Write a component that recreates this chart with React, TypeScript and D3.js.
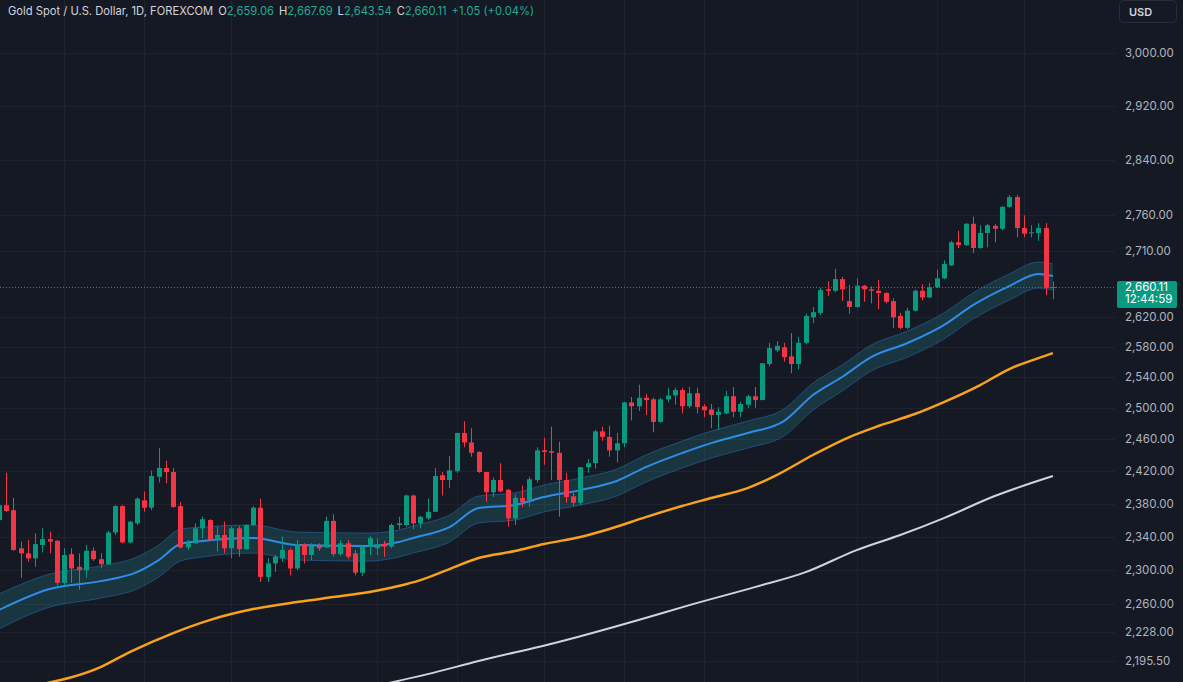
import React from 'react';
import * as d3 from 'd3';

// ---- Daily OHLC (Gold Spot / USD, FOREXCOM) ----
const opens = [
  2360, 2378, 2372, 2326, 2320, 2314, 2330, 2337, 2335, 2285,
  2319, 2304, 2300, 2323, 2313, 2307, 2345, 2377, 2333, 2356,
  2384, 2375, 2413, 2424, 2419, 2377, 2327, 2332, 2350, 2360,
  2336, 2342, 2326, 2350, 2325, 2354, 2375, 2292, 2308, 2314,
  2324, 2302, 2331, 2318, 2329, 2327, 2359, 2319, 2332, 2320,
  2297, 2328, 2326, 2331, 2328, 2354, 2354, 2390, 2356, 2362,
  2370, 2415, 2409, 2420, 2468, 2456, 2444, 2419, 2394, 2409,
  2397, 2362, 2387, 2384, 2409, 2446, 2445, 2443, 2409, 2389,
  2381, 2425, 2430, 2470, 2463, 2446, 2455, 2507, 2502, 2513,
  2511, 2482, 2511, 2516, 2523, 2502, 2519, 2502, 2498, 2491,
  2493, 2515, 2495, 2504, 2515, 2510, 2557, 2575, 2579, 2567,
  2557, 2585, 2619, 2625, 2657, 2655, 2671, 2641, 2633, 2662,
  2657, 2655, 2652, 2641, 2621, 2605, 2628, 2655, 2646, 2660,
  2672, 2690, 2722, 2718, 2748, 2714, 2735, 2745, 2741, 2772,
  2786, 2742, 2735, 2735, 2742, 2659.06,
];
const highs = [
  2384, 2418, 2387, 2334, 2336, 2344, 2350, 2346, 2336, 2326,
  2326, 2320, 2330, 2327, 2320, 2347, 2378, 2378, 2359, 2388,
  2395, 2421, 2449, 2433, 2424, 2382, 2336, 2356, 2364, 2361,
  2352, 2358, 2352, 2353, 2355, 2377, 2386, 2314, 2318, 2340,
  2326, 2336, 2332, 2332, 2332, 2364, 2367, 2336, 2336, 2324,
  2330, 2341, 2338, 2335, 2356, 2364, 2391, 2391, 2365, 2386,
  2424, 2419, 2439, 2468, 2483, 2474, 2445, 2419, 2412, 2430,
  2398, 2391, 2402, 2413, 2450, 2462, 2476, 2457, 2418, 2393,
  2425, 2435, 2472, 2476, 2477, 2468, 2508, 2514, 2530, 2518,
  2513, 2513, 2526, 2526, 2526, 2527, 2526, 2505, 2505, 2501,
  2522, 2527, 2508, 2517, 2527, 2558, 2585, 2587, 2585, 2598,
  2593, 2624, 2633, 2659, 2668, 2685, 2674, 2663, 2672, 2663,
  2661, 2670, 2653, 2645, 2625, 2632, 2657, 2664, 2666, 2684,
  2697, 2724, 2738, 2749, 2758, 2746, 2748, 2748, 2773, 2789,
  2789, 2760, 2746, 2749, 2749, 2667.69,
];
const lows = [
  2354, 2370, 2323, 2291, 2310, 2304, 2321, 2320, 2282, 2282,
  2285, 2277, 2291, 2311, 2302, 2306, 2342, 2332, 2332, 2354,
  2370, 2372, 2406, 2405, 2375, 2326, 2324, 2332, 2338, 2335,
  2322, 2320, 2314, 2316, 2324, 2353, 2286, 2286, 2298, 2310,
  2294, 2300, 2308, 2312, 2323, 2326, 2316, 2317, 2313, 2294,
  2293, 2318, 2318, 2316, 2326, 2349, 2352, 2349, 2350, 2360,
  2370, 2390, 2399, 2418, 2450, 2438, 2418, 2382, 2388, 2394,
  2352, 2354, 2376, 2376, 2406, 2428, 2409, 2364, 2381, 2377,
  2378, 2418, 2423, 2458, 2438, 2431, 2450, 2484, 2496, 2491,
  2469, 2481, 2507, 2504, 2493, 2500, 2493, 2488, 2474, 2472,
  2492, 2488, 2488, 2500, 2500, 2510, 2554, 2573, 2560, 2545,
  2550, 2583, 2611, 2622, 2648, 2653, 2641, 2624, 2632, 2640,
  2638, 2630, 2638, 2605, 2603, 2603, 2627, 2642, 2645, 2659,
  2671, 2689, 2714, 2717, 2707, 2713, 2715, 2722, 2739, 2771,
  2729, 2729, 2729, 2724, 2649, 2643.54,
];
const closes = [
  2378, 2371, 2324, 2320, 2314, 2331, 2337, 2334, 2285, 2318,
  2302, 2300, 2323, 2313, 2307, 2345, 2377, 2333, 2358, 2386,
  2375, 2414, 2424, 2419, 2376, 2327, 2332, 2350, 2361, 2336,
  2342, 2326, 2350, 2325, 2354, 2375, 2292, 2308, 2316, 2324,
  2302, 2331, 2318, 2329, 2326, 2359, 2319, 2332, 2316, 2297,
  2328, 2338, 2331, 2328, 2354, 2356, 2390, 2356, 2364, 2370,
  2414, 2409, 2421, 2468, 2456, 2443, 2419, 2394, 2409, 2395,
  2362, 2387, 2382, 2410, 2446, 2444, 2443, 2409, 2388, 2381,
  2425, 2430, 2470, 2463, 2446, 2455, 2507, 2502, 2513, 2510,
  2482, 2511, 2516, 2523, 2502, 2519, 2501, 2497, 2491, 2495,
  2515, 2495, 2505, 2515, 2510, 2558, 2578, 2581, 2566, 2557,
  2585, 2621, 2626, 2656, 2655, 2671, 2657, 2633, 2662, 2657,
  2655, 2652, 2640, 2619, 2605, 2628, 2655, 2646, 2660, 2672,
  2692, 2722, 2718, 2748, 2714, 2735, 2746, 2741, 2772, 2786,
  2742, 2734, 2736, 2742, 2659.06, 2660.11,
];

// ---- EMA channel (middle + upper/lower band), read at bar indices ----
const emaIdx = [0, 7, 14, 19, 22, 25, 28, 35, 41, 51, 55, 57, 62, 66, 71, 75, 80, 85, 89, 94, 98, 103, 108, 112, 116, 120, 125, 130, 134, 139, 143, 145];
const emaMid = [2253.3, 2277.8, 2287.1, 2297.7, 2312.0, 2331.1, 2334.7, 2338.3, 2329.9, 2328.7, 2333.5, 2338.3, 2351.5, 2374.6, 2378.3, 2388.1, 2396.6, 2407.8, 2425.1, 2442.7, 2455.2, 2467.9, 2483.1, 2516.5, 2540.0, 2566.1, 2584.7, 2608.7, 2635.6, 2661.5, 2678.0, 2675.2];
const emaUpper = [2271.9, 2295.4, 2304.9, 2315.6, 2329.9, 2349.1, 2351.5, 2354.0, 2345.5, 2344.3, 2347.9, 2352.7, 2366.1, 2389.3, 2393.0, 2402.8, 2411.5, 2422.6, 2440.2, 2457.7, 2470.4, 2483.1, 2498.5, 2532.1, 2555.7, 2582.0, 2600.7, 2624.9, 2652.0, 2678.0, 2694.5, 2691.8];
const emaLower = [2231.4, 2256.8, 2267.2, 2277.8, 2291.9, 2310.8, 2315.6, 2320.3, 2312.0, 2310.8, 2315.6, 2320.3, 2333.5, 2356.4, 2360.0, 2369.8, 2378.3, 2389.3, 2406.5, 2423.9, 2436.4, 2448.9, 2464.1, 2497.2, 2521.7, 2547.8, 2566.1, 2590.0, 2616.7, 2642.4, 2658.7, 2656.0];

// ---- Orange moving average ----
const maOrangeIdx = [6, 14, 18, 24, 29, 35, 41, 46, 51, 55, 58, 62, 66, 71, 75, 80, 84, 89, 94, 98, 103, 107, 112, 117, 121, 126, 130, 135, 139, 143, 145];
const maOrange = [2169.3, 2188.3, 2205.2, 2226.9, 2241.8, 2254.5, 2262.6, 2268.4, 2274.3, 2281.3, 2288.3, 2301.3, 2314.4, 2322.7, 2331.1, 2339.5, 2349.1, 2363.6, 2377.1, 2386.8, 2399.1, 2415.2, 2440.2, 2462.8, 2476.8, 2492.1, 2507.5, 2529.5, 2550.4, 2564.8, 2571.4];

// ---- White moving average ----
const maWhiteIdx = [53, 59, 66, 77, 88, 95, 104, 111, 118, 124, 130, 137, 145];
const maWhite = [2169.3, 2180.4, 2195.1, 2216.6, 2241.8, 2259.1, 2280.1, 2297.7, 2323.9, 2341.9, 2362.4, 2389.3, 2414.0];

// ---- Axis ----
const priceTicks = [3000, 2920, 2840, 2760, 2710, 2620, 2580, 2540, 2500, 2460, 2420, 2380, 2340, 2300, 2260, 2228, 2195.5];
const timeGridIdx = [9, 20, 32, 52, 63, 75, 86, 97, 118, 129, 141];
const symbolTitle = 'Gold Spot / U.S. Dollar, 1D, FOREXCOM';
const currency = 'USD';
const countdown = '12:44:59';

const W = 1183;
const H = 682;
const PLOT_R = 1115;
const BG = '#151924';
const GRID = '#1f232e';
const UP = '#089981';
const DOWN = '#f23645';
const FONT = 'Inter, "Noto Sans", Roboto, sans-serif';

export default function App() {
  const n = opens.length;
  const x = d3.scaleLinear().domain([0, n - 1]).range([-1.27, 1052.9]);
  const y = d3.scaleLog().domain([2171.6, 3082.8]).range([H, 0]);
  const fmt = d3.format(',.2f');

  const lineOf = (idx: number[]) =>
    d3
      .line<number>()
      .x((_, i) => x(idx[i]))
      .y((d) => y(d))
      .curve(d3.curveMonotoneX);

  const band = d3
    .area<number>()
    .x((_, i) => x(emaIdx[i]))
    .y0((_, i) => y(emaLower[i]))
    .y1((_, i) => y(emaUpper[i]))
    .curve(d3.curveMonotoneX);

  const bodyW = 5;
  const last = n - 1;
  const lastClose = closes[last];
  const prevClose = closes[last - 1];
  const chg = lastClose - prevClose;
  const chgPct = (chg / prevClose) * 100;
  const legendColor = '#22ab94';

  return (
    <svg
      width={W}
      height={H}
      style={{ position: 'fixed', left: 0, top: 0, background: BG, display: 'block' }}
      fontFamily={FONT}
    >
      <rect x={0} y={0} width={W} height={H} fill={BG} />
      <defs>
        <clipPath id="plot">
          <rect x={0} y={0} width={PLOT_R} height={H} />
        </clipPath>
      </defs>

      {/* grid */}
      <g>
        {priceTicks.map((t) => (
          <line key={'h' + t} x1={0} x2={PLOT_R} y1={Math.round(y(t)) + 0.5} y2={Math.round(y(t)) + 0.5} stroke={GRID} strokeWidth={1} />
        ))}
        {timeGridIdx.map((i) => (
          <line key={'v' + i} x1={Math.round(x(i)) + 0.5} x2={Math.round(x(i)) + 0.5} y1={0} y2={H} stroke={GRID} strokeWidth={1} />
        ))}
      </g>

      <g clipPath="url(#plot)">
        {/* moving averages */}
        <path d={lineOf(maWhiteIdx)(maWhite) || ''} fill="none" stroke="#e6e8ee" strokeWidth={2} strokeOpacity={0.9} />
        <path d={lineOf(maOrangeIdx)(maOrange) || ''} fill="none" stroke="#f7a21b" strokeWidth={2.5} />
        <path d={band(emaMid) || ''} fill="rgba(38,166,180,0.2)" />
        <path d={lineOf(emaIdx)(emaUpper) || ''} fill="none" stroke="#2a6fb0" strokeOpacity={0.55} strokeWidth={1} />
        <path d={lineOf(emaIdx)(emaLower) || ''} fill="none" stroke="#2a6fb0" strokeOpacity={0.55} strokeWidth={1} />
        <path d={lineOf(emaIdx)(emaMid) || ''} fill="none" stroke="#2e8de6" strokeWidth={2} />

        {/* candles */}
        {opens.map((o, i) => {
          const c = closes[i];
          const color = c >= o ? UP : DOWN;
          const cx = x(i);
          const yTop = y(Math.max(o, c));
          const yBot = y(Math.min(o, c));
          return (
            <g key={i}>
              <line x1={Math.round(cx) + 0.5} x2={Math.round(cx) + 0.5} y1={y(highs[i])} y2={y(lows[i])} stroke={color} strokeWidth={1} />
              <rect x={Math.round(cx) + 0.5 - bodyW / 2} y={yTop} width={bodyW} height={Math.max(1, yBot - yTop)} fill={color} />
            </g>
          );
        })}

        {/* last price line */}
        <line x1={0} x2={PLOT_R} y1={Math.round(y(lastClose)) + 0.5} y2={Math.round(y(lastClose)) + 0.5} stroke={UP} strokeWidth={1} strokeDasharray="1 2" />
      </g>

      {/* price scale */}
      <g fontSize={11.5} fill="#b2b5be">
        {priceTicks.map((t) => (
          <text key={'l' + t} x={1125} y={y(t)} dy="0.35em">
            {fmt(t)}
          </text>
        ))}
      </g>
      <g>
        <rect x={1117} y={Math.round(y(lastClose)) - 6} width={60} height={27} rx={2} fill={UP} />
        <text x={1125} y={Math.round(y(lastClose)) + 4} fontSize={11.5} fill="#ffffff">
          {fmt(lastClose)}
        </text>
        <text x={1125} y={Math.round(y(lastClose)) + 16} fontSize={11.5} fill="#ffffff">
          {countdown}
        </text>
      </g>

      {/* currency button */}
      <rect x={1119.5} y={0.5} width={57} height={22} rx={4} fill={BG} stroke="#2a2e39" />
      <text x={1129} y={15.5} fontSize={11} fill="#d1d4dc" fontWeight={600}>
        {currency}
      </text>

      {/* legend */}
      <text x={8} y={14.5} fontSize={11.2} fill="#d1d4dc">
        <tspan>{symbolTitle}</tspan>
        <tspan dx={5}>O</tspan>
        <tspan fill={legendColor}>{fmt(opens[last])}</tspan>
        <tspan dx={5}>H</tspan>
        <tspan fill={legendColor}>{fmt(highs[last])}</tspan>
        <tspan dx={5}>L</tspan>
        <tspan fill={legendColor}>{fmt(lows[last])}</tspan>
        <tspan dx={5}>C</tspan>
        <tspan fill={legendColor}>{fmt(lastClose)}</tspan>
        <tspan dx={5} fill={legendColor}>
          {(chg >= 0 ? '+' : '') + chg.toFixed(2) + ' (' + (chgPct >= 0 ? '+' : '') + chgPct.toFixed(2) + '%)'}
        </tspan>
      </text>
    </svg>
  );
}
